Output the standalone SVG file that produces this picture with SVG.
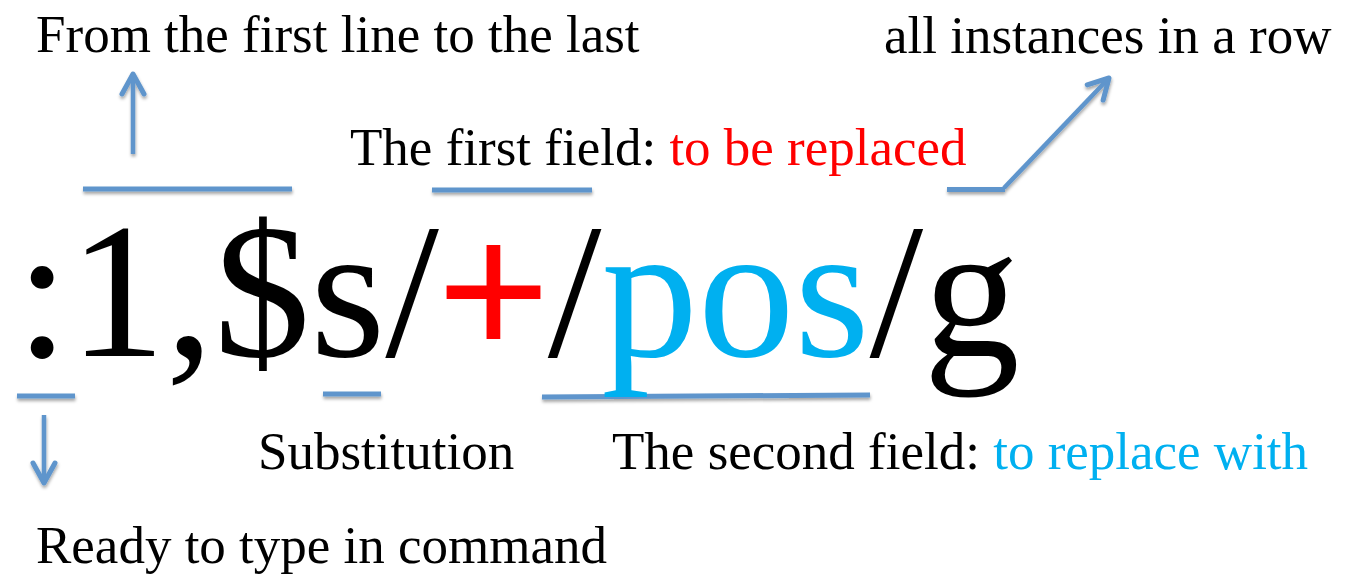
<svg xmlns="http://www.w3.org/2000/svg" width="1345" height="577" viewBox="0 0 1345 577">
<style>
text{font-family:"Liberation Serif","Times New Roman",serif;fill:#000}
.lbl{font-size:53px}
.big{font-size:193px}
.red{fill:#FF0000}
.plus{stroke:#FF0000;stroke-width:4}
.cyan{fill:#00B0F0}
.conn{stroke:#5F95CC;stroke-width:5;fill:none;stroke-linecap:butt}
.arr{stroke-width:4.5;marker-end:url(#head)}
</style>
<defs>
<filter id="sh" filterUnits="userSpaceOnUse" x="0" y="0" width="1345" height="577">
<feDropShadow dx="0.5" dy="2.5" stdDeviation="1.5" flood-color="#000" flood-opacity="0.35"/>
</filter>
<marker id="head" markerUnits="userSpaceOnUse" viewBox="-24 -14 28 28" markerWidth="28" markerHeight="28" refX="0" refY="0" orient="auto" overflow="visible">
<path d="M-20,-11 L0,0 L-20,11" fill="none" stroke="#5F95CC" stroke-width="5" stroke-linecap="round" stroke-linejoin="round"/>
</marker>
</defs>
<rect width="1345" height="577" fill="#fff"/>
<g id="connectors" class="conn" filter="url(#sh)">
<line x1="83" y1="189" x2="292" y2="189"/>
<line class="arr" x1="133" y1="154" x2="133" y2="74"/>
<line x1="432" y1="190" x2="592" y2="190"/>
<polyline points="947,189.5 1005,189.5"/>
<line class="arr" x1="1004" y1="188" x2="1109" y2="78"/>
<line x1="17" y1="396" x2="75" y2="396"/>
<line class="arr" x1="44" y1="415" x2="44" y2="483"/>
<line x1="323" y1="394" x2="381" y2="394"/>
<line x1="542" y1="397" x2="870" y2="395"/>
</g>
<g id="command">
<text class="big" x="15.4" y="356"><tspan>:1,$s/</tspan><tspan class="red plus">+</tspan><tspan>/</tspan><tspan class="cyan">pos</tspan><tspan>/g</tspan></text>
</g>
<g id="range-label">
<text class="lbl" x="36" y="52">From the first line to the last</text>
</g>
<g id="global-label">
<text class="lbl" x="884" y="53">all instances in a row</text>
</g>
<g id="first-field-label">
<text class="lbl" x="350" y="165">The first field: <tspan class="red">to be replaced</tspan></text>
</g>
<g id="substitution-label">
<text class="lbl" x="258" y="469">Substitution</text>
</g>
<g id="second-field-label">
<text class="lbl" x="612" y="469">The second field: <tspan class="cyan">to replace with</tspan></text>
</g>
<g id="colon-label">
<text class="lbl" x="36" y="563">Ready to type in command</text>
</g>
</svg>
